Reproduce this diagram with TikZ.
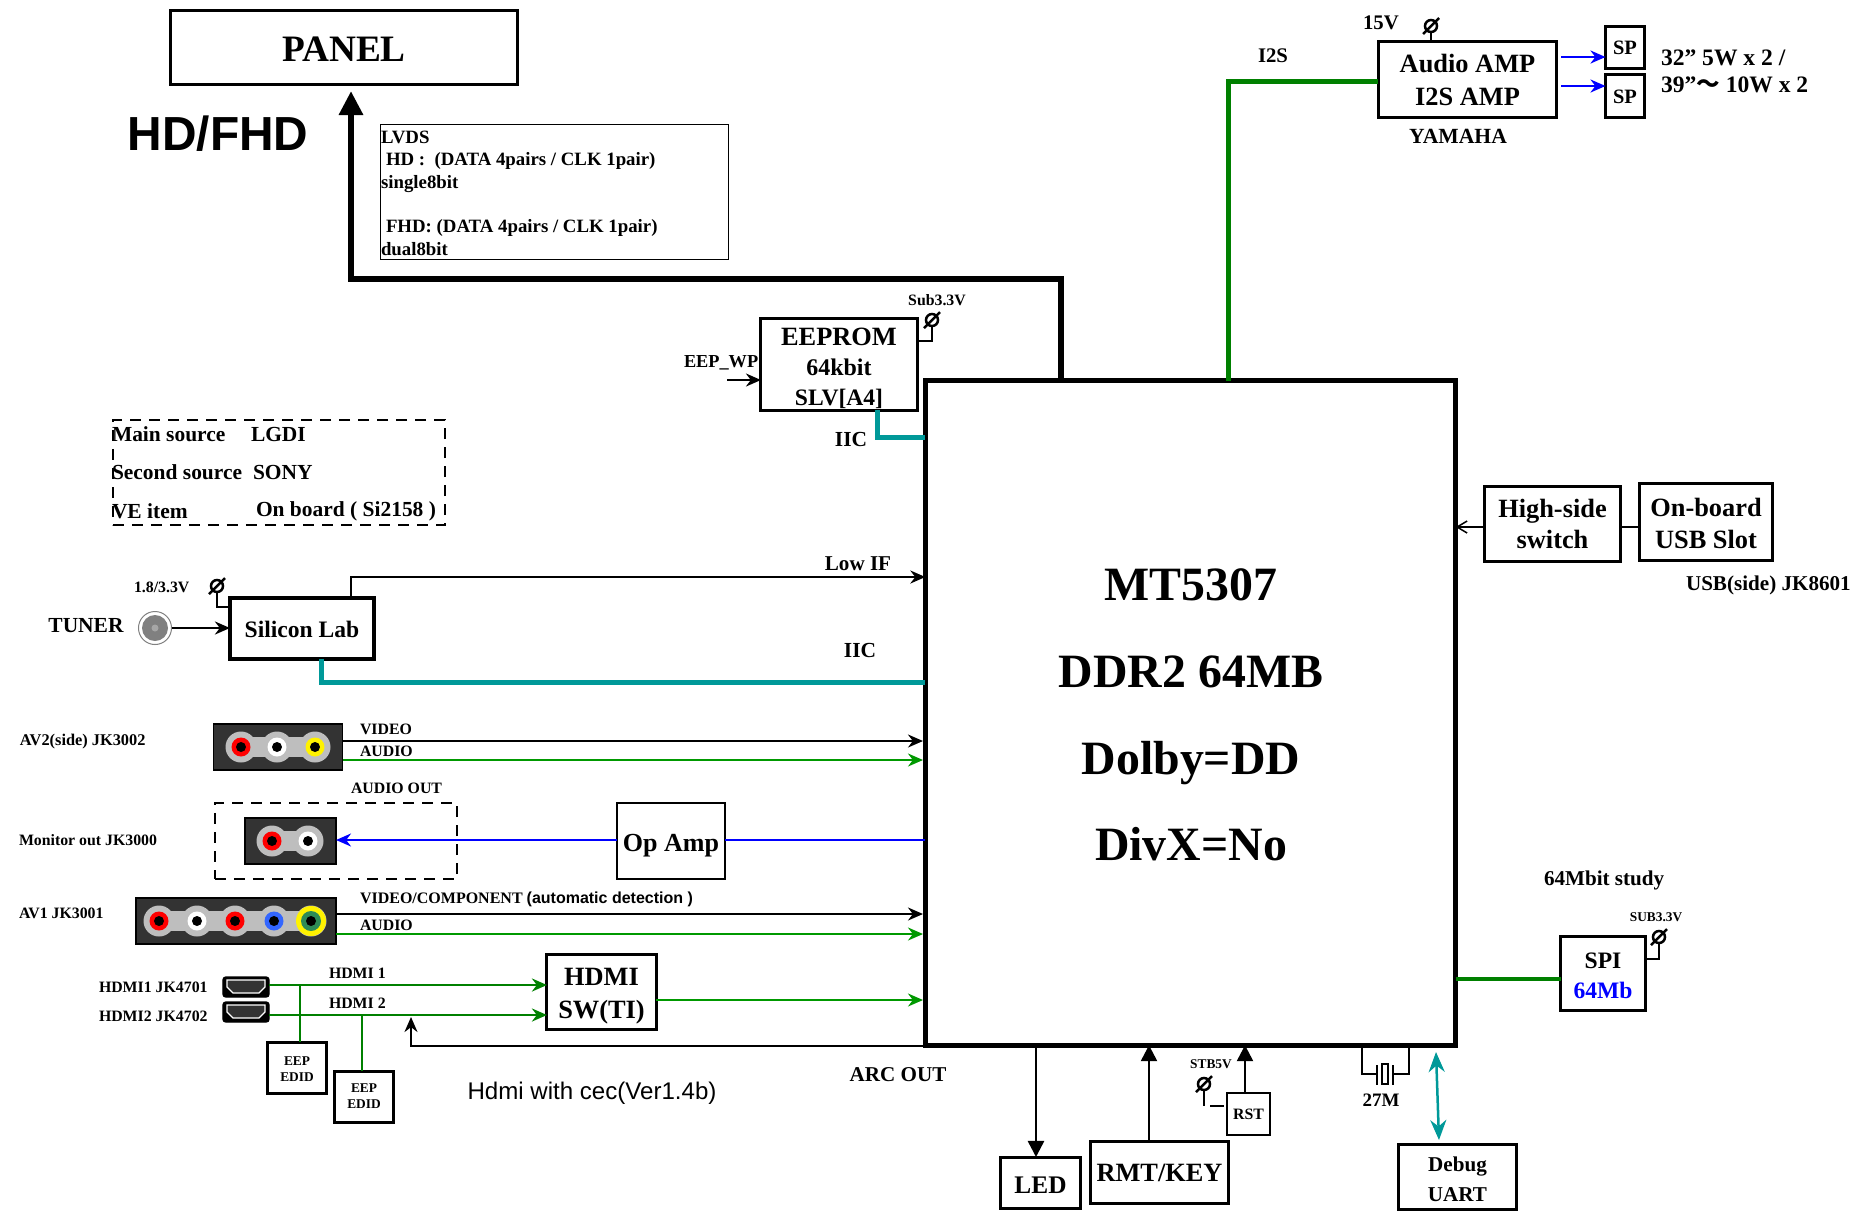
\documentclass[tikz,border=0pt]{standalone}
\usepackage{fontspec}
\setmainfont{Liberation Serif}
\setsansfont{Liberation Sans}
\newfontfamily\cjk{Noto Sans CJK SC}
\usetikzlibrary{arrows.meta}
\definecolor{tealB}{RGB}{0,153,153}
\definecolor{greenA}{RGB}{0,128,0}
\definecolor{greenB}{RGB}{0,153,0}
\definecolor{blueA}{RGB}{0,0,255}
\definecolor{blueB}{RGB}{51,102,255}
\definecolor{seaA}{RGB}{46,139,87}
\definecolor{jackbody}{RGB}{51,51,51}
\definecolor{jackstrip}{RGB}{190,190,190}
\tikzset{
	ft/.style 2 args={font=\fontsize{#1}{#2}\selectfont\bfseries},
	sz/.style 2 args={minimum width=#1*0.1mm,minimum height=#2*0.1mm},
	lab/.style={inner sep=0,outer sep=0},
	box/.style={draw,line width=0.3mm,inner sep=0,outer sep=0,align=center},
	jack/.style={draw,fill=jackbody,line width=0.15mm,inner sep=0,outer sep=0},
	wire/.style={line width=0.2mm,-{Stealth[length=1.5mm,width=1.3mm]}},
	plain/.style={line width=0.2mm},
	pwrpin/.style={draw,circle,line width=0.25mm,inner sep=0,outer sep=0,minimum size=1.2mm},
	bus/.style={line width=0.5mm},
	dashbox/.style={draw,line width=0.2mm,dash pattern=on 1.1mm off 0.8mm,inner sep=0,outer sep=0},
}
\newcommand\tp[1]{\rule{0pt}{#1pt}}
\newcommand\pwr[3]{%
	\node[pwrpin](#1)at(#2,#3){};
	\draw[line width=0.25mm]([shift={(-8,8)}]#1.center)--([shift={(8,-8)}]#1.center);}
\newcommand\jackpin[4]{%
	\fill[jackstrip](#1,#2)circle(15.5);
	\fill[#3](#1,#2)circle(#4);
	\fill[black](#1,#2)circle(5);}
\newcommand\hdmiicon[2]{%
	\node[draw=black,fill=black,rounded corners=0.3mm,inner sep=0,outer sep=0,sz={46}{20}](#1)at(246,#2){};
	\draw[white,fill=jackbody,line width=0.12mm]([shift={(-19,-7)}]#1.center)--([shift={(19,-7)}]#1.center)--([shift={(19,0)}]#1.center)--([shift={(13,6)}]#1.center)--([shift={(-13,6)}]#1.center)--([shift={(-19,0)}]#1.center)--cycle;}
\begin{document}
\begin{tikzpicture}[x=0.01cm,y=-0.01cm]
	\useasboundingbox(0,0)rectangle(1860,1211);

	\node[box,ft={10.6}{12},sz={346}{73}](Panel)at(344,47.5){\tp{7.7}PANEL};
	\node[lab,font=\fontsize{13.6}{15}\selectfont\sffamily\bfseries](HdFhd)at(218,134){HD/FHD};
	\node[draw,line width=0.1mm,inner sep=0,outer sep=0,sz={347}{134}](LvdsBox)at(554.5,192){};
	\node[lab,ft={5.35}{6},anchor=west](LvdsA)at(381,137){LVDS};
	\node[lab,ft={5.35}{6},anchor=west](LvdsC)at(386,161){HD :\ \ (DATA 4pairs / CLK 1pair)};
	\node[lab,ft={5.35}{6},anchor=west](LvdsD)at(381,184){single8bit};
	\node[lab,ft={5.35}{6},anchor=west](LvdsE)at(386,228){FHD: (DATA 4pairs / CLK 1pair)};
	\node[lab,ft={5.35}{6},anchor=west](LvdsF)at(381,249){dual8bit};

	\node[box,line width=0.5mm,sz={530}{664}](SoC)at(1190.5,713){};
	\node[lab,ft={13.6}{16}](SocA)at(1191,585){MT5307};
	\node[lab,ft={13.6}{16}](SocB)at(1191,672){DDR2 64MB};
	\node[lab,ft={13.6}{16}](SocC)at(1191,763){Dolby=DD};
	\node[lab,ft={13.6}{16}](SocD)at(1191,844){DivX=No};

	% lvds
	\coordinate(BendA)at(1061,279);
	\coordinate(BendB)at(351,279);
	\coordinate(PanelTip)at(351,91);
	\draw[line width=0.65mm,-{Stealth[length=2.4mm,width=2.3mm,inset=0pt]}](SoC.north-|BendA)--(BendA)--(BendB)--(PanelTip);

	% eeprom
	\node[box,ft={7.5}{8.5},sz={156}{91}](Eeprom)at(839,364.5){\tp{7.2}EEPROM\\{\fontsize{6.8}{8.5}\selectfont 64kbit}\\{\fontsize{6.7}{8.5}\selectfont SLV[A4]}};
	\pwr{PwrE}{932}{320}
	\node[lab,ft={4.5}{5}](SubA)at(937,300){Sub3.3V};
	\draw[plain](PwrE)|-(Eeprom.east|-0,341);
	\node[lab,ft={5.2}{6},anchor=west](WpLab)at(684,363){EEP\_WP};
	\coordinate(WpA)at(727,380);
	\draw[wire](WpA)--(Eeprom.west|-WpA);
	\coordinate(IicA)at(877,437);
	\draw[tealB,bus](Eeprom.south-|IicA)--(IicA)--(SoC.west|-IicA);
	\node[lab,ft={6.1}{7}](IicLabA)at(851,439){IIC};

	% source
	\node[dashbox,sz={332}{105}](SrcBox)at(279,472.5){};
	\node[lab,ft={6.1}{7},anchor=west](SrcA)at(112,434){Main source};
	\node[lab,ft={6.1}{7},anchor=west](SrcB)at(251,434){LGDI};
	\node[lab,ft={6.1}{7},anchor=west](SrcC)at(112,472){Second source};
	\node[lab,ft={6.1}{7},anchor=west](SrcD)at(253,472){SONY};
	\node[lab,ft={6.1}{7},anchor=west](SrcE)at(112,511){VE item};
	\node[lab,ft={6.1}{7},anchor=west](SrcF)at(256,511){On board ( Si2158 )};

	% tuner
	\node[lab,ft={6.1}{7}](TunerLab)at(86,626){TUNER};
	\node[draw=gray,line width=0.1mm,circle,inner sep=0,outer sep=0,minimum size=3.3mm](Tuner)at(155,628){};
	\fill[gray](Tuner.center)circle(13);
	\fill[gray!70](Tuner.center)circle(3.5);
	\node[box,line width=0.4mm,ft={6.7}{8},sz={144}{61}](Silab)at(302,628.5){\tp{5.3}Silicon Lab};
	\draw[wire,line width=0.25mm](Tuner.east)--(Silab.west|-Tuner.east);
	\pwr{PwrT}{217}{586}
	\node[lab,ft={4.5}{5},anchor=west](TunerV)at(134,587){1.8/3.3V};
	\draw[plain](PwrT)|-(Silab.west|-0,607);
	\coordinate(LowA)at(351,577);
	\draw[wire](Silab.north-|LowA)--(LowA)--(SoC.west|-LowA);
	\node[lab,ft={6}{7}](LowLab)at(858,564){Low IF};
	\coordinate(IicB)at(321,682);
	\draw[tealB,bus](Silab.south-|IicB)--(IicB)--(SoC.west|-IicB);
	\node[lab,ft={6.1}{7}](IicLabB)at(860,650){IIC};

	% av2
	\node[lab,ft={4.65}{5.5},anchor=west](AvTwoLab)at(20,742){AV2(side) JK3002};
	\node[jack,sz={129}{46}](AvTwo)at(278,747){};
	\fill[jackstrip](241,737)rectangle(315,757);
	\jackpin{241}{747}{red}{9.5}
	\jackpin{277}{747}{white}{9.5}
	\jackpin{315}{747}{yellow}{9.5}
	\coordinate(AvTwoA)at(923,741);
	\coordinate(AvTwoB)at(923,760);
	\draw[wire](AvTwo.east|-AvTwoA)--(AvTwoA);
	\draw[wire,greenB](AvTwo.east|-AvTwoB)--(AvTwoB);
	\node[lab,ft={4.5}{5},anchor=west](VideoA)at(360,729){VIDEO};
	\node[lab,ft={4.5}{5},anchor=west](AudioA)at(360,751){AUDIO};

	% monitor
	\node[lab,ft={4.5}{5},anchor=west](MonLab)at(19,840){Monitor out JK3000};
	\node[lab,ft={4.5}{5},anchor=west](MonOut)at(351,788){AUDIO OUT};
	\node[dashbox,sz={242}{76}](MonBox)at(336,841){};
	\node[jack,sz={91}{46}](Mon)at(290.5,841){};
	\fill[jackstrip](272,831)rectangle(308,851);
	\jackpin{272}{841}{red}{9.5}
	\jackpin{308}{841}{white}{9.5}
	\node[box,line width=0.25mm,ft={7.4}{9},sz={108}{76}](OpAmp)at(671,841){\tp{7.6}Op Amp};
	\coordinate(MonY)at(671,840);
	\draw[blueA,plain](SoC.west|-MonY)--(OpAmp.east|-MonY);
	\draw[blueA,wire](OpAmp.west|-MonY)--(Mon.east|-MonY);

	% av1
	\node[lab,ft={4.5}{5},anchor=west](AvOneLab)at(19,913){AV1 JK3001};
	\node[jack,sz={200}{46}](AvOne)at(236,921){};
	\fill[jackstrip](159,911)rectangle(311,931);
	\jackpin{159}{921}{red}{9.5}
	\jackpin{197}{921}{white}{9.5}
	\jackpin{235}{921}{red}{9.5}
	\jackpin{274}{921}{blueB}{9.5}
	\jackpin{311}{921}{yellow}{15}
	\fill[seaA](311,921)circle(10);
	\fill[black](311,921)circle(5);
	\coordinate(AvOneA)at(923,914);
	\coordinate(AvOneB)at(923,934);
	\draw[wire](AvOne.east|-AvOneA)--(AvOneA);
	\draw[wire,greenB](AvOne.east|-AvOneB)--(AvOneB);
	\node[lab,ft={4.55}{5},anchor=west](VideoB)at(360,899){VIDEO/COMPONENT {\sffamily(automatic detection )}};
	\node[lab,ft={4.5}{5},anchor=west](AudioB)at(360,925){AUDIO};

	% hdmi
	\node[lab,ft={4.5}{5},anchor=west](HdmiLabA)at(99,987){HDMI1 JK4701};
	\node[lab,ft={4.5}{5},anchor=west](HdmiLabB)at(99,1016){HDMI2 JK4702};
	\hdmiicon{HdmiA}{987}
	\hdmiicon{HdmiB}{1012}
	\node[box,ft={7.5}{9.3},sz={109}{74}](HdmiSw)at(601.5,992){\tp{7.3}HDMI\\SW(TI)};
	\coordinate(HdA)at(300,985);
	\coordinate(HdB)at(362,1015);
	\draw[wire,greenA,line width=0.28mm](HdmiA.east|-HdA)--(HdmiSw.west|-HdA);
	\draw[wire,greenA,line width=0.28mm](HdmiB.east|-HdB)--(HdmiSw.west|-HdB);
	\node[lab,ft={4.5}{5},anchor=west](HdmiOne)at(329,973){HDMI 1};
	\node[lab,ft={4.5}{5},anchor=west](HdmiTwo)at(329,1003){HDMI 2};
	\node[box,ft={3.8}{4.6},sz={58}{51}](EdidA)at(297,1067.5){\tp{3.3}EEP\\EDID};
	\node[box,ft={3.8}{4.6},sz={58}{51}](EdidB)at(364,1096.5){EEP\\EDID};
	\draw[greenA,plain](HdA)--(EdidA.north-|HdA);
	\draw[greenA,plain](HdB)--(EdidB.north-|HdB);
	\coordinate(SwOut)at(923,1000);
	\draw[wire,greenB](HdmiSw.east|-SwOut)--(SwOut);
	\coordinate(ArcA)at(411,1046);
	\coordinate(ArcB)at(411,1017);
	\draw[wire](SoC.west|-ArcA)--(ArcA)--(ArcB);
	\node[lab,ft={6}{7}](ArcLab)at(898,1075){ARC OUT};
	\node[lab,font=\fontsize{6.85}{8}\selectfont\sffamily](CecLab)at(592,1093){Hdmi with cec(Ver1.4b)};

	% i2s
	\node[box,ft={7.5}{9.4},sz={178}{75}](Amp)at(1467.5,79.5){Audio AMP\\I2S AMP};
	\coordinate(I2sA)at(1228,81);
	\draw[greenA,bus](SoC.north-|I2sA)--(I2sA)--(Amp.west|-I2sA);
	\node[lab,ft={5.9}{7}](I2sLab)at(1273,56){I2S};
	\pwr{PwrA}{1431}{26}
	\draw[plain](PwrA)--(Amp.north-|PwrA);
	\node[lab,ft={5.9}{7},anchor=west](AmpV)at(1363,23){15V};
	\node[lab,ft={6.15}{7}](Yamaha)at(1458,136){YAMAHA};
	\node[box,ft={5.8}{7},sz={39}{41}](SpA)at(1625,47.5){SP};
	\node[box,ft={5.8}{7},sz={39}{42}](SpB)at(1625,96){\tp{4.6}SP};
	\coordinate(AmpA)at(1561,57);
	\coordinate(AmpB)at(1561,86);
	\draw[wire,blueA,line width=0.28mm](AmpA)--(SpA.west|-AmpA);
	\draw[wire,blueA,line width=0.28mm](AmpB)--(SpB.west|-AmpB);
	\node[lab,ft={6.7}{7.5},anchor=west](WattA)at(1661,58){32” 5W x 2 /};
	\node[lab,ft={6.7}{7.5},anchor=west](WattB)at(1661,85){39”{\cjk ～} 10W x 2};

	% usb
	\node[box,ft={7.5}{8.8},sz={135}{74}](HiSide)at(1552.5,524){High-side\\switch};
	\node[box,ft={7.5}{9.1},sz={132}{76}](Usb)at(1706,522){\tp{6.2}On-board\\USB Slot};
	\draw[plain](Usb.west|-0,527)--(HiSide.east|-0,527);
	\draw[wire,line width=0.15mm,-{Straight Barb[length=1mm,width=1.2mm]}](HiSide.west|-0,527)--(SoC.east|-0,527);
	\node[lab,ft={6}{7},anchor=west](UsbLab)at(1686,585){USB(side) JK8601};

	% spi
	\node[lab,ft={6}{7},anchor=west](StudyLab)at(1544,880){64Mbit study};
	\node[box,ft={6.7}{8.5},sz={84}{73}](Spi)at(1603,973.5){\tp{5.9}SPI\\{\color{blueA}64Mb}};
	\draw[greenA,line width=0.4mm](SoC.east|-0,979)--(Spi.west|-0,979);
	\pwr{PwrS}{1659}{937}
	\node[lab,ft={3.8}{4.5}](SubB)at(1656,917){SUB3.3V};
	\draw[plain](PwrS)|-(Spi.east|-0,959);

	% bottom
	\node[box,ft={7.2}{9},sz={79}{51}](Led)at(1040.5,1182.5){\tp{6.2}LED};
	\coordinate(LedX)at(1036,0);
	\coordinate(RmtX)at(1149,0);
	\coordinate(RstX)at(1245,0);
	\draw[wire,line width=0.25mm,-{Stealth[length=1.6mm,width=1.6mm,inset=0pt]}](SoC.south-|LedX)--(Led.north-|LedX);
	\node[box,ft={7.5}{9},sz={137}{62}](Rmt)at(1159.5,1172){\tp{5.7}RMT/KEY};
	\draw[wire,line width=0.25mm,-{Stealth[length=1.6mm,width=1.6mm,inset=0pt]}](Rmt.north-|RmtX)--(SoC.south-|RmtX);
	\node[box,line width=0.25mm,ft={4.5}{5},sz={43}{42}](Rst)at(1248.5,1114){RST};
	\draw[wire,line width=0.25mm,-{Stealth[length=1.6mm,width=1.6mm,inset=0pt]}](Rst.north-|RstX)--(SoC.south-|RstX);
	\node[lab,ft={3.8}{4.5}](StbLab)at(1211,1064){STB5V};
	\pwr{PwrR}{1204}{1084}
	\coordinate(StbA)at(1204,1106);
	\coordinate(StbB)at(1210,1106);
	\coordinate(StbC)at(1224,1106);
	\draw[plain](PwrR)--(StbA);
	\draw[plain,line width=0.25mm](StbB)--(StbC);

	% xtal
	\coordinate(XtalA)at(1362,1074);
	\coordinate(XtalB)at(1409,1074);
	\node[draw,line width=0.2mm,inner sep=0,outer sep=0,sz={6}{20}](Xtal)at(1385,1074){};
	\coordinate(PlateA)at(1377,1065);
	\coordinate(PlateB)at(1393,1065);
	\draw[plain](SoC.south-|XtalA)--(XtalA)--(PlateA|-XtalA);
	\draw[plain](SoC.south-|XtalB)--(XtalB)--(PlateB|-XtalB);
	\draw[plain](PlateA)--+(0,20);
	\draw[plain](PlateB)--+(0,20);
	\node[lab,ft={5.4}{6.5}](XtalLab)at(1381,1100){27M};

	% debug
	\node[box,ft={6}{8.5},sz={117}{65}](Debug)at(1457.5,1176.5){\tp{5.5}Debug\\UART};
	\coordinate(DbgA)at(1436,1052);
	\coordinate(DbgB)at(1439,1140);
	\draw[tealB,line width=0.25mm,{Stealth[length=2mm,width=1.6mm]}-{Stealth[length=2mm,width=1.6mm]}](DbgA)--(DbgB);
\end{tikzpicture}
\end{document}
